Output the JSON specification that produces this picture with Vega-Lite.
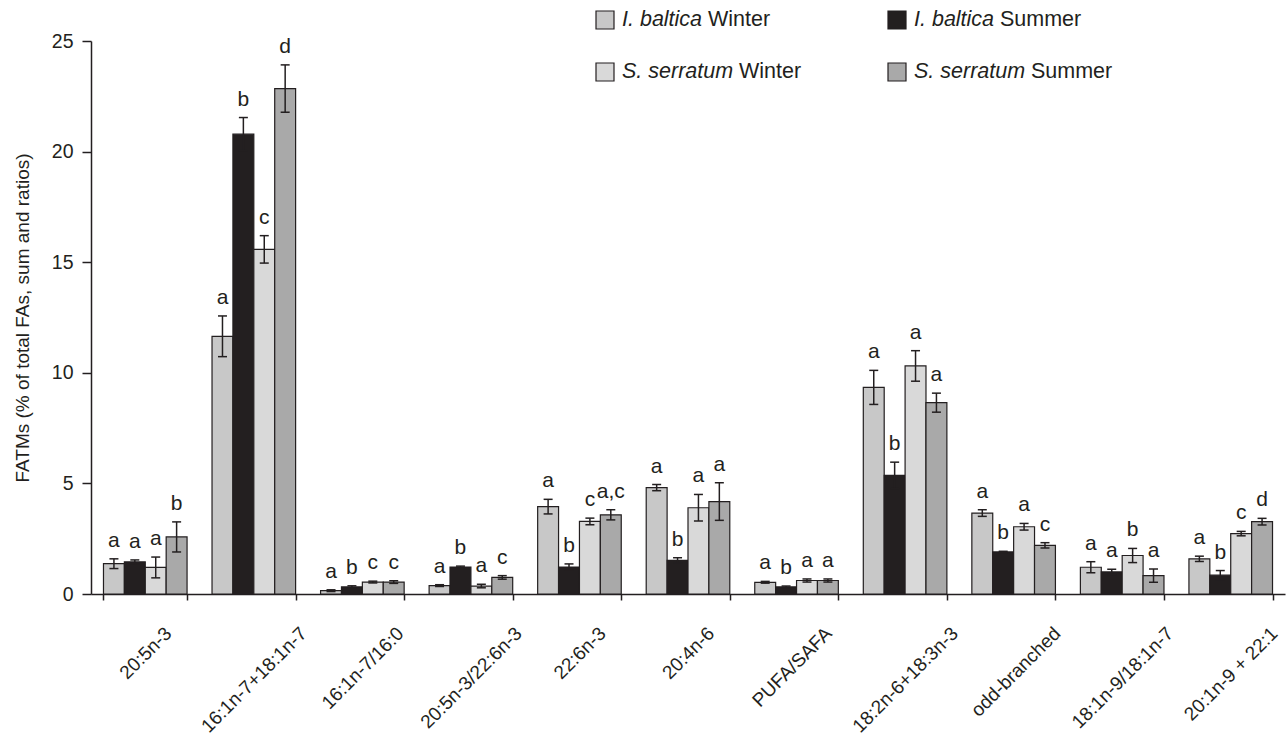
{
  "$schema": "https://vega.github.io/schema/vega-lite/v6.json",
  "width": 1194,
  "height": 553,
  "autosize": "none",
  "padding": {"left": 91, "top": 41, "right": 3, "bottom": 148},
  "background": "white",
  "config": {
    "font": "Liberation Sans",
    "view": {"stroke": null},
    "axis": {
      "grid": false,
      "labelColor": "#231f20",
      "titleColor": "#231f20",
      "domainColor": "#231f20",
      "tickColor": "#231f20",
      "labelFont": "Liberation Sans",
      "titleFont": "Liberation Sans",
      "titleFontWeight": "normal"
    }
  },
  "layer": [
    {
      "data": {
        "values": [
          {"fa": "20:5n-3", "series": "I. baltica Winter", "value": 1.37, "err": 0.22, "letter": "a"},
          {"fa": "20:5n-3", "series": "I. baltica Summer", "value": 1.45, "err": 0.09, "letter": "a"},
          {"fa": "20:5n-3", "series": "S. serratum Winter", "value": 1.2, "err": 0.47, "letter": "a"},
          {"fa": "20:5n-3", "series": "S. serratum Summer", "value": 2.58, "err": 0.68, "letter": "b"},
          {"fa": "16:1n-7+18:1n-7", "series": "I. baltica Winter", "value": 11.65, "err": 0.92, "letter": "a"},
          {"fa": "16:1n-7+18:1n-7", "series": "I. baltica Summer", "value": 20.79, "err": 0.75, "letter": "b"},
          {"fa": "16:1n-7+18:1n-7", "series": "S. serratum Winter", "value": 15.58, "err": 0.62, "letter": "c"},
          {"fa": "16:1n-7+18:1n-7", "series": "S. serratum Summer", "value": 22.85, "err": 1.07, "letter": "d"},
          {"fa": "16:1n-7/16:0", "series": "I. baltica Winter", "value": 0.15, "err": 0.04, "letter": "a"},
          {"fa": "16:1n-7/16:0", "series": "I. baltica Summer", "value": 0.32, "err": 0.05, "letter": "b"},
          {"fa": "16:1n-7/16:0", "series": "S. serratum Winter", "value": 0.54, "err": 0.04, "letter": "c"},
          {"fa": "16:1n-7/16:0", "series": "S. serratum Summer", "value": 0.54, "err": 0.06, "letter": "c"},
          {"fa": "20:5n-3/22:6n-3", "series": "I. baltica Winter", "value": 0.38, "err": 0.04, "letter": "a"},
          {"fa": "20:5n-3/22:6n-3", "series": "I. baltica Summer", "value": 1.22, "err": 0.04, "letter": "b"},
          {"fa": "20:5n-3/22:6n-3", "series": "S. serratum Winter", "value": 0.36, "err": 0.08, "letter": "a"},
          {"fa": "20:5n-3/22:6n-3", "series": "S. serratum Summer", "value": 0.75, "err": 0.08, "letter": "c"},
          {"fa": "22:6n-3", "series": "I. baltica Winter", "value": 3.95, "err": 0.33, "letter": "a"},
          {"fa": "22:6n-3", "series": "I. baltica Summer", "value": 1.22, "err": 0.14, "letter": "b"},
          {"fa": "22:6n-3", "series": "S. serratum Winter", "value": 3.28, "err": 0.15, "letter": "c"},
          {"fa": "22:6n-3", "series": "S. serratum Summer", "value": 3.58, "err": 0.23, "letter": "a,c"},
          {"fa": "20:4n-6", "series": "I. baltica Winter", "value": 4.81, "err": 0.14, "letter": "a"},
          {"fa": "20:4n-6", "series": "I. baltica Summer", "value": 1.52, "err": 0.12, "letter": "b"},
          {"fa": "20:4n-6", "series": "S. serratum Winter", "value": 3.9, "err": 0.6, "letter": "a"},
          {"fa": "20:4n-6", "series": "S. serratum Summer", "value": 4.18, "err": 0.85, "letter": "a"},
          {"fa": "PUFA/SAFA", "series": "I. baltica Winter", "value": 0.53, "err": 0.04, "letter": "a"},
          {"fa": "PUFA/SAFA", "series": "I. baltica Summer", "value": 0.32, "err": 0.04, "letter": "b"},
          {"fa": "PUFA/SAFA", "series": "S. serratum Winter", "value": 0.61, "err": 0.07, "letter": "a"},
          {"fa": "PUFA/SAFA", "series": "S. serratum Summer", "value": 0.61, "err": 0.07, "letter": "a"},
          {"fa": "18:2n-6+18:3n-3", "series": "I. baltica Winter", "value": 9.34, "err": 0.77, "letter": "a"},
          {"fa": "18:2n-6+18:3n-3", "series": "I. baltica Summer", "value": 5.36, "err": 0.6, "letter": "b"},
          {"fa": "18:2n-6+18:3n-3", "series": "S. serratum Winter", "value": 10.31, "err": 0.69, "letter": "a"},
          {"fa": "18:2n-6+18:3n-3", "series": "S. serratum Summer", "value": 8.65, "err": 0.43, "letter": "a"},
          {"fa": "odd-branched", "series": "I. baltica Winter", "value": 3.66, "err": 0.15, "letter": "a"},
          {"fa": "odd-branched", "series": "I. baltica Summer", "value": 1.9, "err": 0.03, "letter": "b"},
          {"fa": "odd-branched", "series": "S. serratum Winter", "value": 3.04, "err": 0.15, "letter": "a"},
          {"fa": "odd-branched", "series": "S. serratum Summer", "value": 2.2, "err": 0.12, "letter": "c"},
          {"fa": "18:1n-9/18:1n-7", "series": "I. baltica Winter", "value": 1.21, "err": 0.25, "letter": "a"},
          {"fa": "18:1n-9/18:1n-7", "series": "I. baltica Summer", "value": 1.0, "err": 0.12, "letter": "a"},
          {"fa": "18:1n-9/18:1n-7", "series": "S. serratum Winter", "value": 1.74, "err": 0.32, "letter": "b"},
          {"fa": "18:1n-9/18:1n-7", "series": "S. serratum Summer", "value": 0.83, "err": 0.3, "letter": "a"},
          {"fa": "20:1n-9 + 22:1", "series": "I. baltica Winter", "value": 1.59, "err": 0.12, "letter": "a"},
          {"fa": "20:1n-9 + 22:1", "series": "I. baltica Summer", "value": 0.85, "err": 0.21, "letter": "b"},
          {"fa": "20:1n-9 + 22:1", "series": "S. serratum Winter", "value": 2.73, "err": 0.1, "letter": "c"},
          {"fa": "20:1n-9 + 22:1", "series": "S. serratum Summer", "value": 3.27, "err": 0.15, "letter": "d"}
        ]
      },
      "transform": [
        {"calculate": "datum.value - datum.err", "as": "lo"},
        {"calculate": "datum.value + datum.err", "as": "hi"}
      ],
      "encoding": {
        "x": {
          "field": "fa",
          "type": "nominal",
          "sort": null,
          "scale": {"paddingInner": 0.23, "paddingOuter": 0.115},
          "axis": {
            "title": null,
            "tickBand": "extent",
            "tickSize": 6,
            "tickWidth": 1.5,
            "domainWidth": 1.5,
            "labelAngle": -45,
            "labelAlign": "right",
            "labelBaseline": "middle",
            "labelFontSize": 19,
            "labelPadding": 30,
            "labelOverlap": false,
            "labelLimit": 0,
            "labelBound": false,
            "encoding": {
              "labels": {
                "dx": {"value": {"expr": "0.25*(10.57*length(datum.label) - 5.29*(length(split(datum.label, ':')) + length(split(datum.label, '/')) + length(split(datum.label, ' ')) - 3) - 4.24*(length(split(datum.label, '-')) - 1))"}},
                "dy": {"value": {"expr": "0.25*(10.57*length(datum.label) - 5.29*(length(split(datum.label, ':')) + length(split(datum.label, '/')) + length(split(datum.label, ' ')) - 3) - 4.24*(length(split(datum.label, '-')) - 1))"}}
              }
            }
          }
        },
        "xOffset": {
          "field": "series",
          "type": "nominal",
          "sort": ["I. baltica Winter", "I. baltica Summer", "S. serratum Winter", "S. serratum Summer"],
          "scale": {"paddingInner": 0, "paddingOuter": 0}
        }
      },
      "layer": [
        {
          "mark": {"type": "bar", "stroke": "#231f20", "strokeWidth": 1.2},
          "encoding": {
            "y": {
              "field": "value",
              "type": "quantitative",
              "stack": null,
              "title": "FATMs (% of total FAs, sum and ratios)",
              "scale": {"domain": [0, 25], "nice": false},
              "axis": {
                "values": [0, 5, 10, 15, 20, 25],
                "tickSize": 9,
                "tickWidth": 1.5,
                "domainWidth": 1.5,
                "labelFontSize": 19.5,
                "labelPadding": 9,
                "titleFontSize": 19,
                "titlePadding": 19
              }
            },
            "color": {
              "field": "series",
              "type": "nominal",
              "scale": {
                "domain": ["I. baltica Winter", "I. baltica Summer", "S. serratum Winter", "S. serratum Summer"],
                "range": ["#c8c8c8", "#231f20", "#d9d9d9", "#a9a9a9"]
              },
              "legend": null
            }
          }
        },
        {
          "mark": {"type": "rule", "color": "#231f20", "strokeWidth": 1.5},
          "encoding": {
            "y": {"field": "lo", "type": "quantitative", "title": "FATMs (% of total FAs, sum and ratios)"},
            "y2": {"field": "hi"}
          }
        },
        {
          "mark": {"type": "tick", "color": "#231f20", "thickness": 1.5, "size": 9, "opacity": 1},
          "encoding": {
            "y": {"field": "lo", "type": "quantitative", "title": "FATMs (% of total FAs, sum and ratios)"}
          }
        },
        {
          "mark": {"type": "tick", "color": "#231f20", "thickness": 1.5, "size": 9, "opacity": 1},
          "encoding": {
            "y": {"field": "hi", "type": "quantitative", "title": "FATMs (% of total FAs, sum and ratios)"}
          }
        },
        {
          "mark": {"type": "text", "baseline": "alphabetic", "align": "center", "dy": -12, "fontSize": 21, "color": "#231f20"},
          "encoding": {
            "y": {"field": "hi", "type": "quantitative", "title": "FATMs (% of total FAs, sum and ratios)"},
            "text": {"field": "letter"}
          }
        }
      ]
    },
    {
      "data": {
        "values": [
          {"series": "I. baltica Winter", "species": "I. baltica", "season": "Winter"},
          {"series": "I. baltica Summer", "species": "I. baltica", "season": "Summer"},
          {"series": "S. serratum Winter", "species": "S. serratum", "season": "Winter"},
          {"series": "S. serratum Summer", "species": "S. serratum", "season": "Summer"}
        ]
      },
      "encoding": {
        "x": {
          "field": "season",
          "type": "nominal",
          "sort": ["Winter", "Summer"],
          "scale": {"type": "point", "padding": 0, "range": [514, 806]},
          "axis": null
        },
        "y": {
          "field": "species",
          "type": "nominal",
          "sort": ["I. baltica", "S. serratum"],
          "scale": {"type": "point", "padding": 0, "range": [-21, 31]},
          "axis": null
        }
      },
      "layer": [
        {
          "mark": {"type": "point", "shape": "square", "filled": true, "size": 324, "stroke": "#231f20", "strokeWidth": 1.2, "opacity": 1},
          "encoding": {
            "color": {"field": "series", "type": "nominal", "legend": null}
          }
        },
        {
          "mark": {"type": "text", "align": "left", "baseline": "middle", "dx": 17, "fontStyle": "italic", "fontSize": 21.5, "color": "#231f20"},
          "encoding": {"text": {"field": "species"}}
        },
        {
          "transform": [{"filter": "datum.species === 'I. baltica'"}],
          "mark": {"type": "text", "align": "left", "baseline": "middle", "dx": 103, "fontSize": 21.5, "color": "#231f20"},
          "encoding": {"text": {"field": "season"}}
        },
        {
          "transform": [{"filter": "datum.species === 'S. serratum'"}],
          "mark": {"type": "text", "align": "left", "baseline": "middle", "dx": 134, "fontSize": 21.5, "color": "#231f20"},
          "encoding": {"text": {"field": "season"}}
        }
      ]
    }
  ],
  "resolve": {"scale": {"x": "independent", "y": "independent"}}
}
